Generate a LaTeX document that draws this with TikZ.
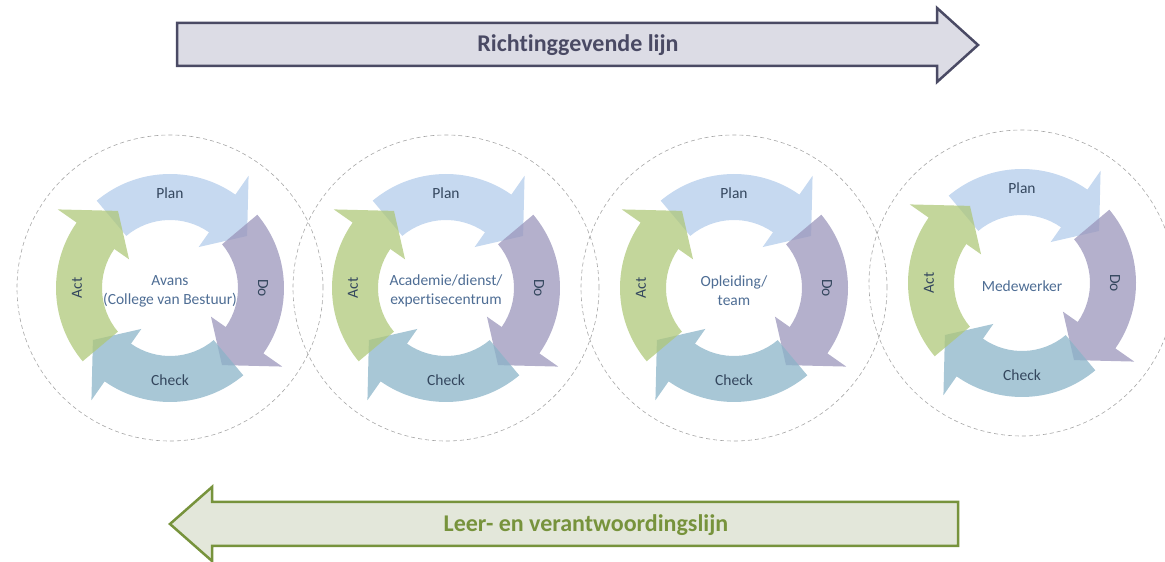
\documentclass[tikz,border=0pt]{standalone}
\usepackage{fontspec}
\setmainfont{Carlito}[Ligatures=NoCommon]
\usepackage{tikz}

\definecolor{plancol}{HTML}{B3CCEB}
\definecolor{docol}{HTML}{9B96BB}
\definecolor{checkcol}{HTML}{8BB4C8}
\definecolor{actcol}{HTML}{AFC87A}
\definecolor{labelcol}{HTML}{34475E}
\definecolor{middencol}{HTML}{4E6D94}
\definecolor{kadercol}{HTML}{A6A6A6}
\definecolor{richtlijn}{HTML}{4A4A64}
\definecolor{richtvul}{HTML}{DCDCE5}
\definecolor{leerlijn}{HTML}{77933C}
\definecolor{leervul}{HTML}{E3E7DA}

\begin{document}
\begin{tikzpicture}[x=1pt,y=1pt,
	seg/.style={fill opacity=0.75},
	stap/.style={text=labelcol,font=\fontsize{15.5}{19}\selectfont},
	midden/.style={text=middencol,align=center,font=\fontsize{15.5}{19}\selectfont},
	kader/.style={draw=kadercol,dash pattern=on 4pt off 3pt,line width=0.6pt},
	lijntekst/.style={font=\fontsize{24}{28}\selectfont\bfseries}]
	%\draw[help lines] (0,0) grid[step=50] (1165,562);
	\useasboundingbox (0,0) rectangle (1165,562);
	\clip (0,0) rectangle (1165,562);
	% richtinggevende lijn (boven)
	\draw[line width=2.5pt,draw=richtlijn,fill=richtvul,miter limit=20] (177,539) -- (937,539) -- (937,554) -- (978,517) -- (937,480) -- (937,496) -- (177,496) -- cycle;
	\node[lijntekst,text=richtlijn] (richting) at (578,517) {Richtinggevende lijn};
	% leer- en verantwoordingslijn (onder)
	\draw[line width=2.5pt,draw=leerlijn,fill=leervul,miter limit=20] (958,60) -- (212,60) -- (212,75) -- (170,38) -- (212,1) -- (212,16) -- (958,16) -- cycle;
	\node[lijntekst,text=leerlijn] (leer) at (586,37) {Leer- en verantwoordingslijn};
	% de vier PDCA-cirkels
	\foreach \cx/\cy/\naam/\tekst in {170/274/avans/{Avans\\(College van Bestuur)},
		446/274/academie/{Academie/dienst/\\expertisecentrum},
		734/274/opleiding/{Opleiding/\\team},
		1022/279/medewerker/{Medewerker}} {
		\begin{scope}[shift={(\cx,\cy)}]
			\draw[kader] (0,0) circle [radius=153];
			\foreach \b/\kleur in {0/plancol,-90/docol,-180/checkcol,-270/actcol}
				\fill[seg,\kleur] ({130+\b}:114) arc[start angle=130+\b,end angle=55+\b,radius=114]
					-- ({55+\b}:137) -- ({34+\b}:93) -- ({55+\b}:50) -- ({55+\b}:68)
					arc[start angle=55+\b,end angle=130+\b,radius=68] -- cycle;
			\node[stap] (\naam-plan) at (90:95) {Plan};
			\node[stap,rotate=-90] (\naam-do) at (0:93) {Do};
			\node[stap] (\naam-check) at (-90:92) {Check};
			\node[stap,rotate=90] (\naam-act) at (180:93) {Act};
			\node[midden] (\naam) at (0,-3) {\tekst};
		\end{scope}
	}
\end{tikzpicture}
\end{document}
